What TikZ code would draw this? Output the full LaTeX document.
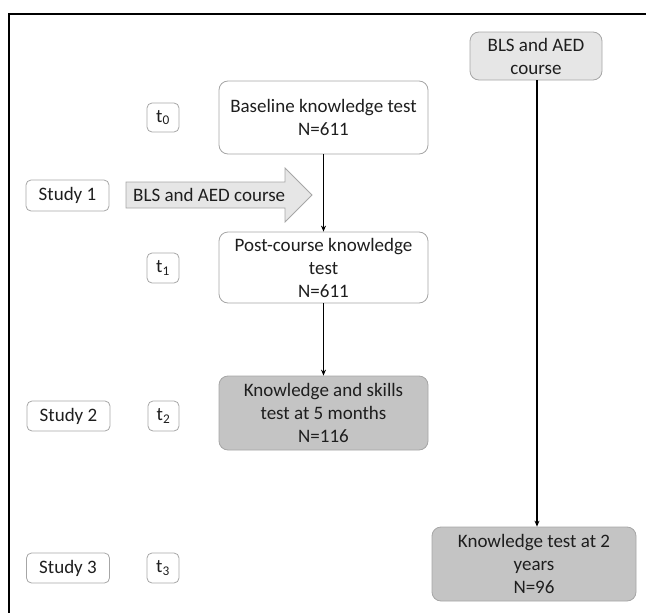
\documentclass[tikz,border=0pt]{standalone}
\usepackage{fontspec}
\setmainfont{Carlito}
\usetikzlibrary{arrows.meta}
\definecolor{edgegray}{HTML}{A6A6A6}
\definecolor{lightfill}{HTML}{E6E6E6}
\definecolor{darkfill}{HTML}{C4C4C4}
\definecolor{txt}{HTML}{1E1E1E}
\tikzset{
  bigbox/.style={draw=edgegray, line width=0.8pt, rounded corners=9pt, align=center, text=txt,
    font=\fontsize{19}{23}\selectfont, inner sep=0pt},
  smallbox/.style={draw=edgegray, line width=0.8pt, rounded corners=5pt, align=center, text=txt,
    font=\fontsize{19}{23}\selectfont, inner sep=0pt},
  conn/.style={-{Stealth[length=6pt,width=5pt]}, line width=1.4pt, black},
}
\begin{document}
\begin{tikzpicture}[x=1pt,y=-1pt]
\useasboundingbox (0,0) rectangle (646,613);
\draw[line width=1.2pt] (9,613) -- (9,14) -- (646,14);
% top right course
\node[bigbox, fill=lightfill, minimum width=132pt, minimum height=48pt] (course2) at (536,56) {BLS and AED\\course};
% main column
\node[bigbox, fill=white, minimum width=209pt, minimum height=73pt] (base) at (323.5,117.5) {Baseline knowledge test\\N=611};
\node[bigbox, fill=white, minimum width=209pt, minimum height=71pt] (post) at (323.5,267.5) {Post-course knowledge\\test\\N=611};
\node[bigbox, fill=darkfill, minimum width=209pt, minimum height=74pt] (ks) at (323.5,413) {Knowledge and skills\\test at 5 months\\N=116};
\node[bigbox, fill=darkfill, minimum width=204pt, minimum height=74pt] (kt) at (534,564) {Knowledge test at 2\\years\\N=96};
% time labels
\node[smallbox, minimum width=32pt, minimum height=29pt] (t0) at (163,117.5) {t\textsubscript{0}};
\node[smallbox, minimum width=32pt, minimum height=30pt] (t1) at (163,268) {t\textsubscript{1}};
\node[smallbox, minimum width=31pt, minimum height=30pt] (t2) at (163.5,416) {t\textsubscript{2}};
\node[smallbox, minimum width=32pt, minimum height=30pt] (t3) at (163,568) {t\textsubscript{3}};
% study labels
\node[smallbox, minimum width=83pt, minimum height=31pt] (s1) at (67.5,195.5) {Study 1};
\node[smallbox, minimum width=83pt, minimum height=30pt] (s2) at (68.5,416) {Study 2};
\node[smallbox, minimum width=83pt, minimum height=30pt] (s3) at (68,568) {Study 3};
% big course arrow
\draw[draw=edgegray, fill=lightfill, line width=0.8pt] (126,182) -- (285,182) -- (285,168) -- (312,195) -- (285,222) -- (285,208) -- (126,208) -- cycle;
\node[text=txt, font=\fontsize{19}{23}\selectfont, anchor=west, inner sep=0pt] (course1) at (133,195) {BLS and AED course};
% connectors
\draw[conn] (base) -- (post);
\draw[conn] (post) -- (ks);
\draw[conn] (course2.south -| 537,0) -- (kt.north -| 537,0);
\end{tikzpicture}
\end{document}
